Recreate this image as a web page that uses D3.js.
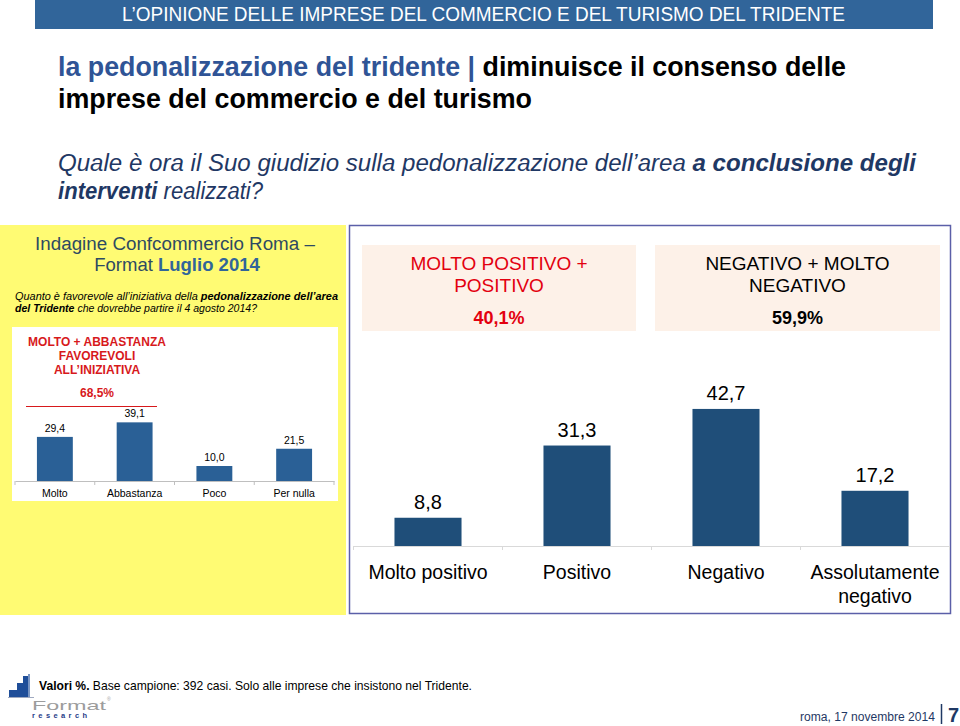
<!DOCTYPE html>
<html><head><meta charset="utf-8">
<script src="https://cdn.jsdelivr.net/npm/d3@7"></script>
<style>
body{margin:0;background:#fff;}
svg{display:block;}
.a{font-family:"Liberation Sans",Arial,sans-serif;}
</style></head>
<body>
<svg id="c" width="960" height="726"></svg>
<script>
// ---- data ----
const smallCategories = ["Molto", "Abbastanza", "Poco", "Per nulla"];
const smallValues = [29.4, 39.1, 10.0, 21.5];
const smallFavorable = 68.5;

const mainCategories = ["Molto positivo", "Positivo", "Negativo", "Assolutamente negativo"];
const mainCategoryLines = [["Molto positivo"], ["Positivo"], ["Negativo"], ["Assolutamente", "negativo"]];
const mainValues = [8.8, 31.3, 42.7, 17.2];
const summaryLabels = [["MOLTO POSITIVO +", "POSITIVO"], ["NEGATIVO + MOLTO", "NEGATIVO"]];
const summaryValues = [40.1, 59.9];

const it = d3.formatLocale({decimal: ",", thousands: ".", grouping: [3], currency: ["€", ""]});
const f1 = it.format(".1f");

const svg = d3.select("#c");
function fit(sel, w) { return sel.attr("textLength", w).attr("lengthAdjust", "spacingAndGlyphs"); }

// ---- header bar ----
svg.append("rect").attr("x", 35).attr("y", 0).attr("width", 898).attr("height", 29).attr("fill", "#31659A");
fit(svg.append("text").attr("class", "a").attr("x", 122).attr("y", 21)
  .attr("font-size", 20).attr("fill", "#fff")
  .text("L’OPINIONE DELLE IMPRESE DEL COMMERCIO E DEL TURISMO DEL TRIDENTE"), 723);

// ---- title ----
const t1 = fit(svg.append("text").attr("class", "a").attr("x", 58).attr("y", 76).attr("font-size", 28.5).attr("font-weight", "bold"), 788);
t1.append("tspan").attr("fill", "#2F5496").text("la pedonalizzazione del tridente | ");
t1.append("tspan").attr("fill", "#000").text("diminuisce il consenso delle");
fit(svg.append("text").attr("class", "a").attr("x", 58).attr("y", 108).attr("font-size", 28.5).attr("font-weight", "bold")
  .attr("fill", "#000").text("imprese del commercio e del turismo"), 474);

// ---- question ----
const q1 = fit(svg.append("text").attr("class", "a").attr("x", 58).attr("y", 171).attr("font-size", 23)
  .attr("font-style", "italic").attr("fill", "#1F3864"), 858);
q1.append("tspan").text("Quale è ora il Suo giudizio sulla pedonalizzazione dell’area ");
q1.append("tspan").attr("font-weight", "bold").text("a conclusione degli");
const q2 = fit(svg.append("text").attr("class", "a").attr("x", 58).attr("y", 199).attr("font-size", 23)
  .attr("font-style", "italic").attr("fill", "#1F3864"), 205);
q2.append("tspan").attr("font-weight", "bold").text("interventi");
q2.append("tspan").text(" realizzati?");

// ---- yellow panel ----
svg.append("rect").attr("x", 0).attr("y", 225).attr("width", 346).attr("height", 390).attr("fill", "#FFFB73");
svg.append("text").attr("class", "a").attr("x", 175).attr("y", 250).attr("text-anchor", "middle")
  .attr("font-size", 18.8).attr("fill", "#2E4A62").text("Indagine Confcommercio Roma –");
const fm = svg.append("text").attr("class", "a").attr("x", 177).attr("y", 271).attr("text-anchor", "middle")
  .attr("font-size", 18.5).attr("fill", "#2E4A62");
fm.append("tspan").text("Format ");
fm.append("tspan").attr("font-weight", "bold").attr("fill", "#31659A").text("Luglio 2014");

const sq1 = fit(svg.append("text").attr("class", "a").attr("x", 15).attr("y", 300).attr("font-size", 10.8).attr("font-style", "italic").attr("fill", "#000"), 323);
sq1.append("tspan").text("Quanto è favorevole all’iniziativa della ");
sq1.append("tspan").attr("font-weight", "bold").text("pedonalizzazione dell’area");
const sq2 = fit(svg.append("text").attr("class", "a").attr("x", 15).attr("y", 312).attr("font-size", 10.8).attr("font-style", "italic").attr("fill", "#000"), 242);
sq2.append("tspan").attr("font-weight", "bold").text("del Tridente");
sq2.append("tspan").text(" che dovrebbe partire il 4 agosto 2014?");

// white inner area
svg.append("rect").attr("x", 12).attr("y", 327).attr("width", 326).attr("height", 174).attr("fill", "#fff");

const xs = d3.scaleBand().domain(smallCategories).range([15, 334]).paddingInner(0.55).paddingOuter(0.275);
const ys = d3.scaleLinear().domain([0, 100]).range([481, 331]);

// red annotation
const redLines = ["MOLTO + ABBASTANZA", "FAVOREVOLI", "ALL’INIZIATIVA"];
svg.append("g").selectAll("text").data(redLines).join("text").attr("class", "a")
  .attr("x", 97).attr("y", (d, i) => 346 + i * 14).attr("text-anchor", "middle")
  .attr("font-size", 12).attr("font-weight", "bold").attr("fill", "#D7191C").text(d => d);
svg.append("text").attr("class", "a").attr("x", 97).attr("y", 397).attr("text-anchor", "middle")
  .attr("font-size", 12).attr("font-weight", "bold").attr("fill", "#D7191C").text(f1(smallFavorable) + "%");
svg.append("line").attr("x1", 26).attr("x2", 157).attr("y1", 406.5).attr("y2", 406.5).attr("stroke", "#D7191C").attr("stroke-width", 1.2);

svg.append("g").selectAll("rect").data(smallValues).join("rect")
  .attr("x", (d, i) => xs(smallCategories[i])).attr("width", xs.bandwidth())
  .attr("y", d => ys(d)).attr("height", d => ys(0) - ys(d)).attr("fill", "#2A6096");
svg.append("g").selectAll("text").data(smallValues).join("text").attr("class", "a")
  .attr("x", (d, i) => xs(smallCategories[i]) + xs.bandwidth() / 2).attr("y", d => ys(d) - 5)
  .attr("text-anchor", "middle").attr("font-size", 10.5).attr("fill", "#000").text(d => f1(d));

const sAxis = svg.append("g").attr("transform", "translate(0,481)")
  .call(d3.axisBottom(xs).tickSize(0).tickPadding(9));
sAxis.select(".domain").attr("stroke", "#BFBFBF");
sAxis.selectAll("text").attr("font-size", 10.5).attr("fill", "#000").attr("font-family", "Liberation Sans, Arial, sans-serif");
svg.append("g").selectAll("line").data(d3.range(smallCategories.length + 1)).join("line")
  .attr("x1", i => xs.range()[0] + i * xs.step()).attr("x2", i => xs.range()[0] + i * xs.step())
  .attr("y1", 481).attr("y2", 485).attr("stroke", "#BFBFBF");

// ---- main panel ----
svg.append("rect").attr("x", 349.5).attr("y", 225.5).attr("width", 601).attr("height", 388).attr("fill", "#fff")
  .attr("stroke", "#5B5FA8").attr("stroke-width", 1.5);

const boxes = [{x: 362, w: 274}, {x: 655, w: 285}];
summaryValues.forEach((v, i) => {
  const b = boxes[i];
  const col = i === 0 ? "#E3000F" : "#000";
  svg.append("rect").attr("x", b.x).attr("y", 245).attr("width", b.w).attr("height", 86).attr("fill", "#FDF1E8");
  summaryLabels[i].forEach((l, j) => {
    svg.append("text").attr("class", "a").attr("x", b.x + b.w / 2).attr("y", 270 + j * 22).attr("text-anchor", "middle")
      .attr("font-size", 19).attr("fill", col).text(l);
  });
  svg.append("text").attr("class", "a").attr("x", b.x + b.w / 2).attr("y", 324).attr("text-anchor", "middle")
    .attr("font-size", 18).attr("font-weight", "bold").attr("fill", col).text(f1(v) + "%");
});

const xm = d3.scaleBand().domain(mainCategories).range([353.5, 949.5]).paddingInner(0.55).paddingOuter(0.275);
const ym = d3.scaleLinear().domain([0, 50]).range([546, 385.5]);

svg.append("g").selectAll("rect").data(mainValues).join("rect")
  .attr("x", (d, i) => xm(mainCategories[i])).attr("width", xm.bandwidth())
  .attr("y", d => ym(d)).attr("height", d => ym(0) - ym(d)).attr("fill", "#1F4E79");
svg.append("g").selectAll("text").data(mainValues).join("text").attr("class", "a")
  .attr("x", (d, i) => xm(mainCategories[i]) + xm.bandwidth() / 2).attr("y", d => ym(d) - 9)
  .attr("text-anchor", "middle").attr("font-size", 20).attr("fill", "#000").text(d => f1(d));

const mAxis = svg.append("g").attr("transform", "translate(0,546)")
  .call(d3.axisBottom(xm).tickSize(0).tickFormat(""));
mAxis.select(".domain").attr("stroke", "#D9D9D9");
svg.append("g").selectAll("line").data(d3.range(mainCategories.length + 1)).join("line")
  .attr("x1", i => xm.range()[0] + i * xm.step()).attr("x2", i => xm.range()[0] + i * xm.step())
  .attr("y1", 546).attr("y2", 550).attr("stroke", "#D9D9D9");
mainCategories.forEach((c, i) => {
  const cx = xm(c) + xm.bandwidth() / 2;
  mainCategoryLines[i].forEach((l, j) => {
    svg.append("text").attr("class", "a").attr("x", cx).attr("y", 579 + j * 24).attr("text-anchor", "middle")
      .attr("font-size", 19.5).attr("fill", "#000").text(l);
  });
});

// ---- footer ----
const logo = svg.append("g");
logo.append("path").attr("d", "M9,697 L9,690 L17,690 L17,683 L23,683 L23,676 L28,676 L28,697 Z").attr("fill", "#1F4E99");
logo.append("line").attr("x1", 29).attr("x2", 29).attr("y1", 674).attr("y2", 697).attr("stroke", "#1F4E99").attr("stroke-width", 1.2);
logo.append("line").attr("x1", 8).attr("x2", 34).attr("y1", 697.5).attr("y2", 697.5).attr("stroke", "#9FA9C0").attr("stroke-width", 1);
fit(svg.append("text").attr("class", "a").attr("x", 32).attr("y", 709.5).attr("font-size", 13.5).attr("fill", "#9C9C9C")
  .text("Format"), 74);
svg.append("text").attr("class", "a").attr("x", 107).attr("y", 701).attr("font-size", 5).attr("fill", "#9C9C9C").text("®");
svg.append("text").attr("class", "a").attr("x", 32).attr("y", 718).attr("font-size", 7.5).attr("font-weight", "bold").attr("fill", "#1F3C88")
  .attr("letter-spacing", 3.4).text("research");

const ft = fit(svg.append("text").attr("class", "a").attr("x", 39).attr("y", 690).attr("font-size", 13).attr("fill", "#000"), 433);
ft.append("tspan").attr("font-weight", "bold").text("Valori %.");
ft.append("tspan").text(" Base campione: 392 casi. Solo alle imprese che insistono nel Tridente.");

fit(svg.append("text").attr("class", "a").attr("x", 800).attr("y", 721).attr("font-size", 12.5)
  .attr("fill", "#1F3864").text("roma, 17 novembre 2014"), 135);
svg.append("line").attr("x1", 941.5).attr("x2", 941.5).attr("y1", 704).attr("y2", 724).attr("stroke", "#1F3864").attr("stroke-width", 1.5);
svg.append("text").attr("class", "a").attr("x", 948).attr("y", 722).attr("font-size", 20).attr("font-weight", "bold")
  .attr("fill", "#1F3864").text("7");
</script>
</body></html>
